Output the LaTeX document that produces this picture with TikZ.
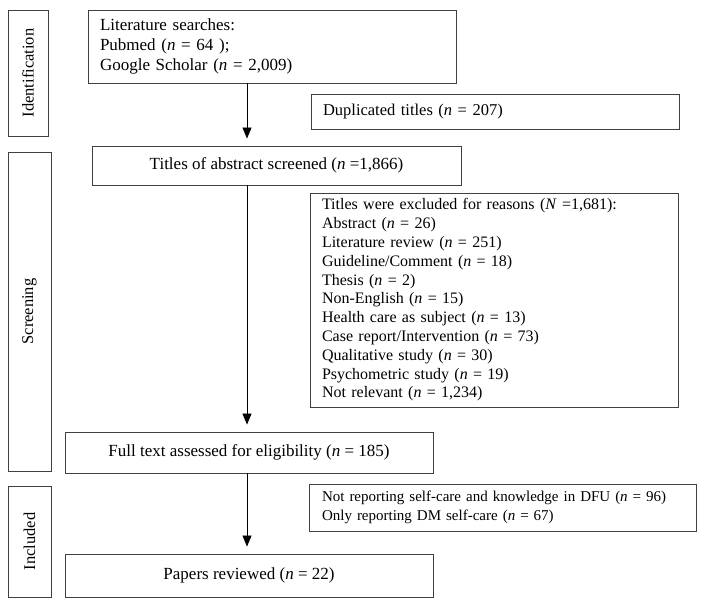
\documentclass[tikz,border=0pt]{standalone}
\usepackage{fontspec}
\setmainfont{Liberation Serif}
\usetikzlibrary{arrows.meta}
\begin{document}
\begin{tikzpicture}[x=1pt,y=-1pt,
  box/.style={draw=black!75, line width=0.9pt, rectangle, inner sep=0pt, font=\fontsize{17}{20}\selectfont},
  sidebox/.style={box},
  sidelabel/.style={rotate=90, font=\fontsize{16.5}{18}\selectfont},
  arr/.style={-{Triangle[length=11pt,width=9pt]}, line width=0.8pt, shorten >=7pt}]
\useasboundingbox (0,0) rectangle (706,607);
\coordinate (ax) at (247,0);
% side boxes
\node[sidebox, minimum width=40, minimum height=126] (ident) at (28,73) {};
\node[sidelabel] (identl) at (ident.center) {Identification};
\node[sidebox, minimum width=43, minimum height=319] (screen) at (29.5,311.5) {};
\node[sidelabel] (screenl) at (screen.center) {Screening};
\node[sidebox, minimum width=43, minimum height=111] (incl) at (29.5,541.5) {};
\node[sidelabel] (incll) at (incl.center) {Included};
% main boxes
\node[box, minimum width=368, minimum height=73, text width=344, align=left, font=\fontsize{17}{20}\selectfont] (search) at (272,46.5)
  {Literature searches:\\Pubmed (\textit{n} = 64 );\\Google Scholar (\textit{n} = 2,009)};
\node[box, minimum width=368, minimum height=35, text width=344, align=left, font=\fontsize{16.5}{19}\selectfont] (dup) at (495,111.5)
  {Duplicated titles (\textit{n} = 207)};
\node[box, minimum width=369, minimum height=39] (titles) at (276.5,165.5)
  {Titles of abstract screened (\textit{n} =1,866)};
\node[box, minimum width=368, minimum height=214, text width=344, align=left, font=\fontsize{16}{18.8}\selectfont] (excl) at (494,300)
  {Titles were excluded for reasons (\textit{N} =1,681):\\
   Abstract (\textit{n} = 26)\\
   Literature review (\textit{n} = 251)\\
   Guideline/Comment (\textit{n} = 18)\\
   Thesis (\textit{n} = 2)\\
   Non-English (\textit{n} = 15)\\
   Health care as subject (\textit{n} = 13)\\
   Case report/Intervention (\textit{n} = 73)\\
   Qualitative study (\textit{n} = 30)\\
   Psychometric study (\textit{n} = 19)\\
   Not relevant (\textit{n} = 1,234)};
\node[box, minimum width=368, minimum height=41] (full) at (249,452.5)
  {Full text assessed for eligibility (\textit{n} = 185)};
\node[box, minimum width=387, minimum height=47, text width=361, align=left, font=\fontsize{15}{19}\selectfont] (notrep) at (502.5,507.5)
  {Not reporting self-care and knowledge in DFU (\textit{n} = 96)\\
   Only reporting DM self-care (\textit{n} = 67)};
\node[box, minimum width=368, minimum height=43] (papers) at (249,575.5)
  {Papers reviewed (\textit{n} = 22)};
% arrows
\draw[arr] (search.south -| ax) -- (titles.north -| ax);
\draw[arr] (titles.south -| ax) -- (full.north -| ax);
\draw[arr] (full.south -| ax) -- (papers.north -| ax);
\end{tikzpicture}
\end{document}
